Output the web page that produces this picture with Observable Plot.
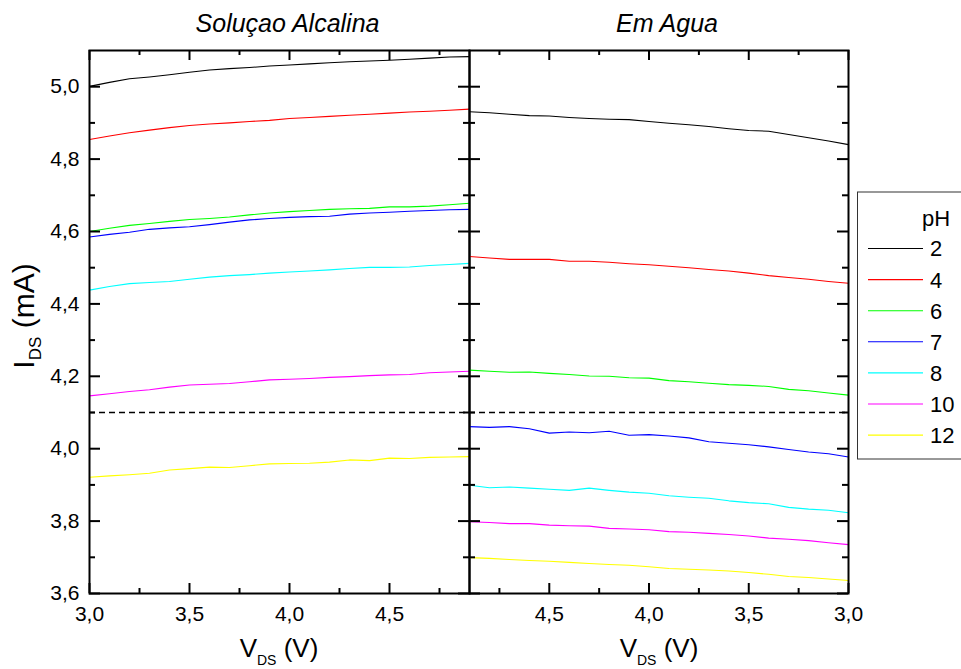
<!DOCTYPE html>
<html><head><meta charset="utf-8">
<script src="https://cdn.jsdelivr.net/npm/d3@7"></script>
<script src="https://cdn.jsdelivr.net/npm/@observablehq/plot@0.6"></script>
<style>
body{margin:0;background:#fff;}
#chart{position:relative;width:961px;height:669px;overflow:hidden;font-family:"Liberation Sans",Arial,sans-serif;background:#fff;}
#chart svg{position:absolute;top:0;}
</style></head><body><div id="chart"></div>
<script>
// ---- data ----
const vGrid = [3.0,3.1,3.2,3.3,3.4,3.5,3.6,3.7,3.8,3.9,4.0,4.1,4.2,4.3,4.4,4.5,4.6,4.7,4.8,4.9];
const phLevels = ["2","4","6","7","8","10","12"];
const phColors = ["#000000","#ff0000","#00ff00","#0000ff","#00ffff","#ff00ff","#ffff00"];

// Soluçao Alcalina
const alk_pH2  = [5.001,5.012,5.022,5.027,5.033,5.040,5.046,5.050,5.053,5.057,5.060,5.063,5.066,5.069,5.071,5.073,5.076,5.079,5.082,5.083];
const alk_pH4  = [4.854,4.864,4.873,4.880,4.887,4.893,4.897,4.900,4.904,4.907,4.912,4.915,4.918,4.921,4.924,4.927,4.930,4.932,4.935,4.938];
const alk_pH6  = [4.600,4.609,4.617,4.622,4.628,4.633,4.636,4.640,4.646,4.651,4.655,4.658,4.661,4.663,4.664,4.668,4.668,4.670,4.674,4.678];
const alk_pH7  = [4.585,4.592,4.598,4.606,4.610,4.613,4.619,4.626,4.632,4.636,4.639,4.641,4.642,4.648,4.651,4.653,4.656,4.658,4.660,4.661];
const alk_pH8  = [4.438,4.448,4.456,4.459,4.462,4.468,4.474,4.478,4.481,4.485,4.488,4.491,4.494,4.498,4.501,4.501,4.502,4.506,4.509,4.512];
const alk_pH10 = [4.146,4.152,4.158,4.163,4.170,4.176,4.178,4.180,4.185,4.190,4.192,4.194,4.197,4.199,4.202,4.204,4.205,4.210,4.212,4.214];
const alk_pH12 = [3.921,3.925,3.928,3.932,3.941,3.945,3.949,3.948,3.953,3.958,3.959,3.960,3.963,3.969,3.967,3.974,3.973,3.976,3.977,3.978];

// Em Agua
const agua_pH2  = [4.840,4.850,4.859,4.868,4.877,4.879,4.884,4.890,4.895,4.899,4.904,4.909,4.910,4.912,4.915,4.919,4.920,4.924,4.928,4.931];
const agua_pH4  = [4.457,4.462,4.468,4.473,4.478,4.485,4.491,4.495,4.500,4.504,4.508,4.511,4.515,4.518,4.518,4.523,4.523,4.523,4.527,4.531];
const agua_pH6  = [4.148,4.154,4.160,4.164,4.172,4.175,4.177,4.181,4.185,4.188,4.195,4.196,4.200,4.201,4.205,4.208,4.212,4.211,4.214,4.217];
const agua_pH7  = [3.977,3.986,3.991,3.998,4.005,4.011,4.015,4.019,4.030,4.035,4.039,4.037,4.048,4.044,4.046,4.043,4.055,4.061,4.059,4.061];
const agua_pH8  = [3.823,3.830,3.833,3.838,3.848,3.851,3.856,3.863,3.866,3.870,3.877,3.880,3.885,3.891,3.885,3.888,3.891,3.894,3.892,3.899];
const agua_pH10 = [3.735,3.740,3.746,3.750,3.753,3.759,3.763,3.766,3.769,3.771,3.776,3.778,3.780,3.786,3.787,3.789,3.793,3.793,3.796,3.798];
const agua_pH12 = [3.636,3.640,3.644,3.647,3.653,3.658,3.662,3.665,3.667,3.669,3.674,3.678,3.680,3.683,3.686,3.689,3.691,3.694,3.697,3.699];

const refLevel = 4.1;
const yDomain = [3.6, 5.1];
const xRange = [3.0, 4.9];
const yMajor = [3.6,3.8,4.0,4.2,4.4,4.6,4.8,5.0];
const yMinor = [3.7,3.9,4.1,4.3,4.5,4.7,4.9];
const xMajor = [3.0,3.5,4.0,4.5];
const xMinor = [3.25,3.75,4.25,4.75];
const titles = ["Soluçao Alcalina","Em Agua"];

// ---- layout ----
const H = 669, mTop = 50, mBottom = 76;
const FONT = "'Liberation Sans', Arial, sans-serif";
const fmt = d => d.toFixed(1).replace(".", ",");
const chart = document.getElementById("chart");

function makeData(series) {
  return series.flatMap((vals, k) => vals.map((I, j) => ({V: vGrid[j], I, pH: phLevels[k]})));
}

function panel({title, series, xDomain, showY, left, width, marginLeft, marginRight}) {
  const plotW = width - marginLeft - marginRight;
  const pxPerV = plotW / Math.abs(xDomain[1] - xDomain[0]);
  const pxPerI = (H - mTop - mBottom) / (yDomain[1] - yDomain[0]);
  const dir = Math.sign(xDomain[1] - xDomain[0]);
  const [xl, xr] = xDomain, [yb, yt] = yDomain;
  const dY = len => len / pxPerI;
  const dX = len => dir * len / pxPerV;
  const tk = {stroke: "black", strokeWidth: 2};
  const marks = [
    Plot.ruleY([refLevel], {stroke: "black", strokeWidth: 1.4, strokeDasharray: "6,4"}),
    Plot.line(makeData(series), {x: "V", y: "I", z: "pH", stroke: "pH", strokeWidth: 1.1}),
    // bottom & top ticks (inward)
    Plot.ruleX(xMajor, {x: d => d, y1: yb, y2: yb + dY(10), ...tk}),
    Plot.ruleX(xMinor, {x: d => d, y1: yb, y2: yb + dY(5), ...tk}),
    Plot.ruleX(xMajor, {x: d => d, y1: yt, y2: yt - dY(10), ...tk}),
    Plot.ruleX(xMinor, {x: d => d, y1: yt, y2: yt - dY(5), ...tk}),
    // left & right ticks (inward)
    Plot.ruleY(yMajor, {y: d => d, x1: xl, x2: xl + dX(11), ...tk}),
    Plot.ruleY(yMinor, {y: d => d, x1: xl, x2: xl + dX(6), ...tk}),
    Plot.ruleY(yMajor, {y: d => d, x1: xr, x2: xr - dX(11), ...tk}),
    Plot.ruleY(yMinor, {y: d => d, x1: xr, x2: xr - dX(6), ...tk}),
    Plot.frame({stroke: "black", strokeWidth: 2}),
    Plot.axisX(xMajor, {tickSize: 0, tickPadding: 13, tickFormat: fmt, fontSize: 21, label: null}),
    Plot.text([title], {frameAnchor: "top", lineAnchor: "middle", dy: -27, dx: 8, fontSize: 25, fontStyle: "italic", fill: "black"})
  ];
  if (showY) marks.push(Plot.axisY(yMajor, {tickSize: 0, tickPadding: 10, tickFormat: fmt, fontSize: 21, label: null}));
  const svg = Plot.plot({
    width, height: H,
    marginLeft, marginRight, marginTop: mTop, marginBottom: mBottom,
    x: {domain: xDomain},
    y: {domain: yDomain, axis: showY ? undefined : null},
    color: {domain: phLevels, range: phColors},
    style: {background: "transparent", overflow: "visible", fontFamily: FONT, color: "black"},
    marks
  });
  svg.style.left = left + "px";
  chart.appendChild(svg);
  return svg;
}

function addLabel(svg, {x, y, rotate, main, sub, rest, size, subSize, subDy}) {
  const t = d3.select(svg).append("text")
    .attr("transform", `translate(${x},${y}) rotate(${rotate})`)
    .attr("text-anchor", "middle").attr("font-size", size)
    .attr("font-family", FONT).attr("fill", "black")
    .style("white-space", "pre");
  t.append("tspan").text(main);
  t.append("tspan").attr("font-size", subSize).attr("dy", subDy).text(sub);
  t.append("tspan").attr("dy", -subDy).text(rest);
}

const leftSvg = panel({
  title: titles[0],
  series: [alk_pH2, alk_pH4, alk_pH6, alk_pH7, alk_pH8, alk_pH10, alk_pH12],
  xDomain: xRange, showY: true, left: 0, width: 480, marginLeft: 89, marginRight: 11
});
const rightSvg = panel({
  title: titles[1],
  series: [agua_pH2, agua_pH4, agua_pH6, agua_pH7, agua_pH8, agua_pH10, agua_pH12],
  xDomain: [xRange[1], xRange[0]], showY: false, left: 459, width: 400, marginLeft: 10, marginRight: 11
});

addLabel(leftSvg, {x: 34, y: 316, rotate: -90, main: "I", sub: "DS", rest: " (mA)", size: 30, subSize: 17, subDy: 7});
addLabel(leftSvg, {x: 279, y: 657, rotate: 0, main: "V", sub: "DS", rest: " (V)", size: 26, subSize: 14, subDy: 8});
addLabel(rightSvg, {x: 200, y: 657, rotate: 0, main: "V", sub: "DS", rest: " (V)", size: 26, subSize: 14, subDy: 8});

// ---- legend ----
const leg = d3.select(chart).append("svg")
  .attr("width", 961).attr("height", H).style("left", "0px")
  .attr("font-family", FONT);
leg.append("rect").attr("x", 857.5).attr("y", 192).attr("width", 120).attr("height", 267)
  .attr("fill", "white").attr("stroke", "#333").attr("stroke-width", 1);
leg.append("text").attr("x", 922).attr("y", 226).attr("font-size", 22).attr("fill", "black").text("pH");
phLevels.forEach((p, i) => {
  const y = 248.5 + i * 31.1;
  leg.append("line").attr("x1", 868).attr("x2", 923).attr("y1", y).attr("y2", y)
    .attr("stroke", phColors[i]).attr("stroke-width", 1.1);
  leg.append("text").attr("x", 930).attr("y", y).attr("dy", "0.36em")
    .attr("font-size", 22).attr("fill", "black").text(p);
});
</script></body></html>
